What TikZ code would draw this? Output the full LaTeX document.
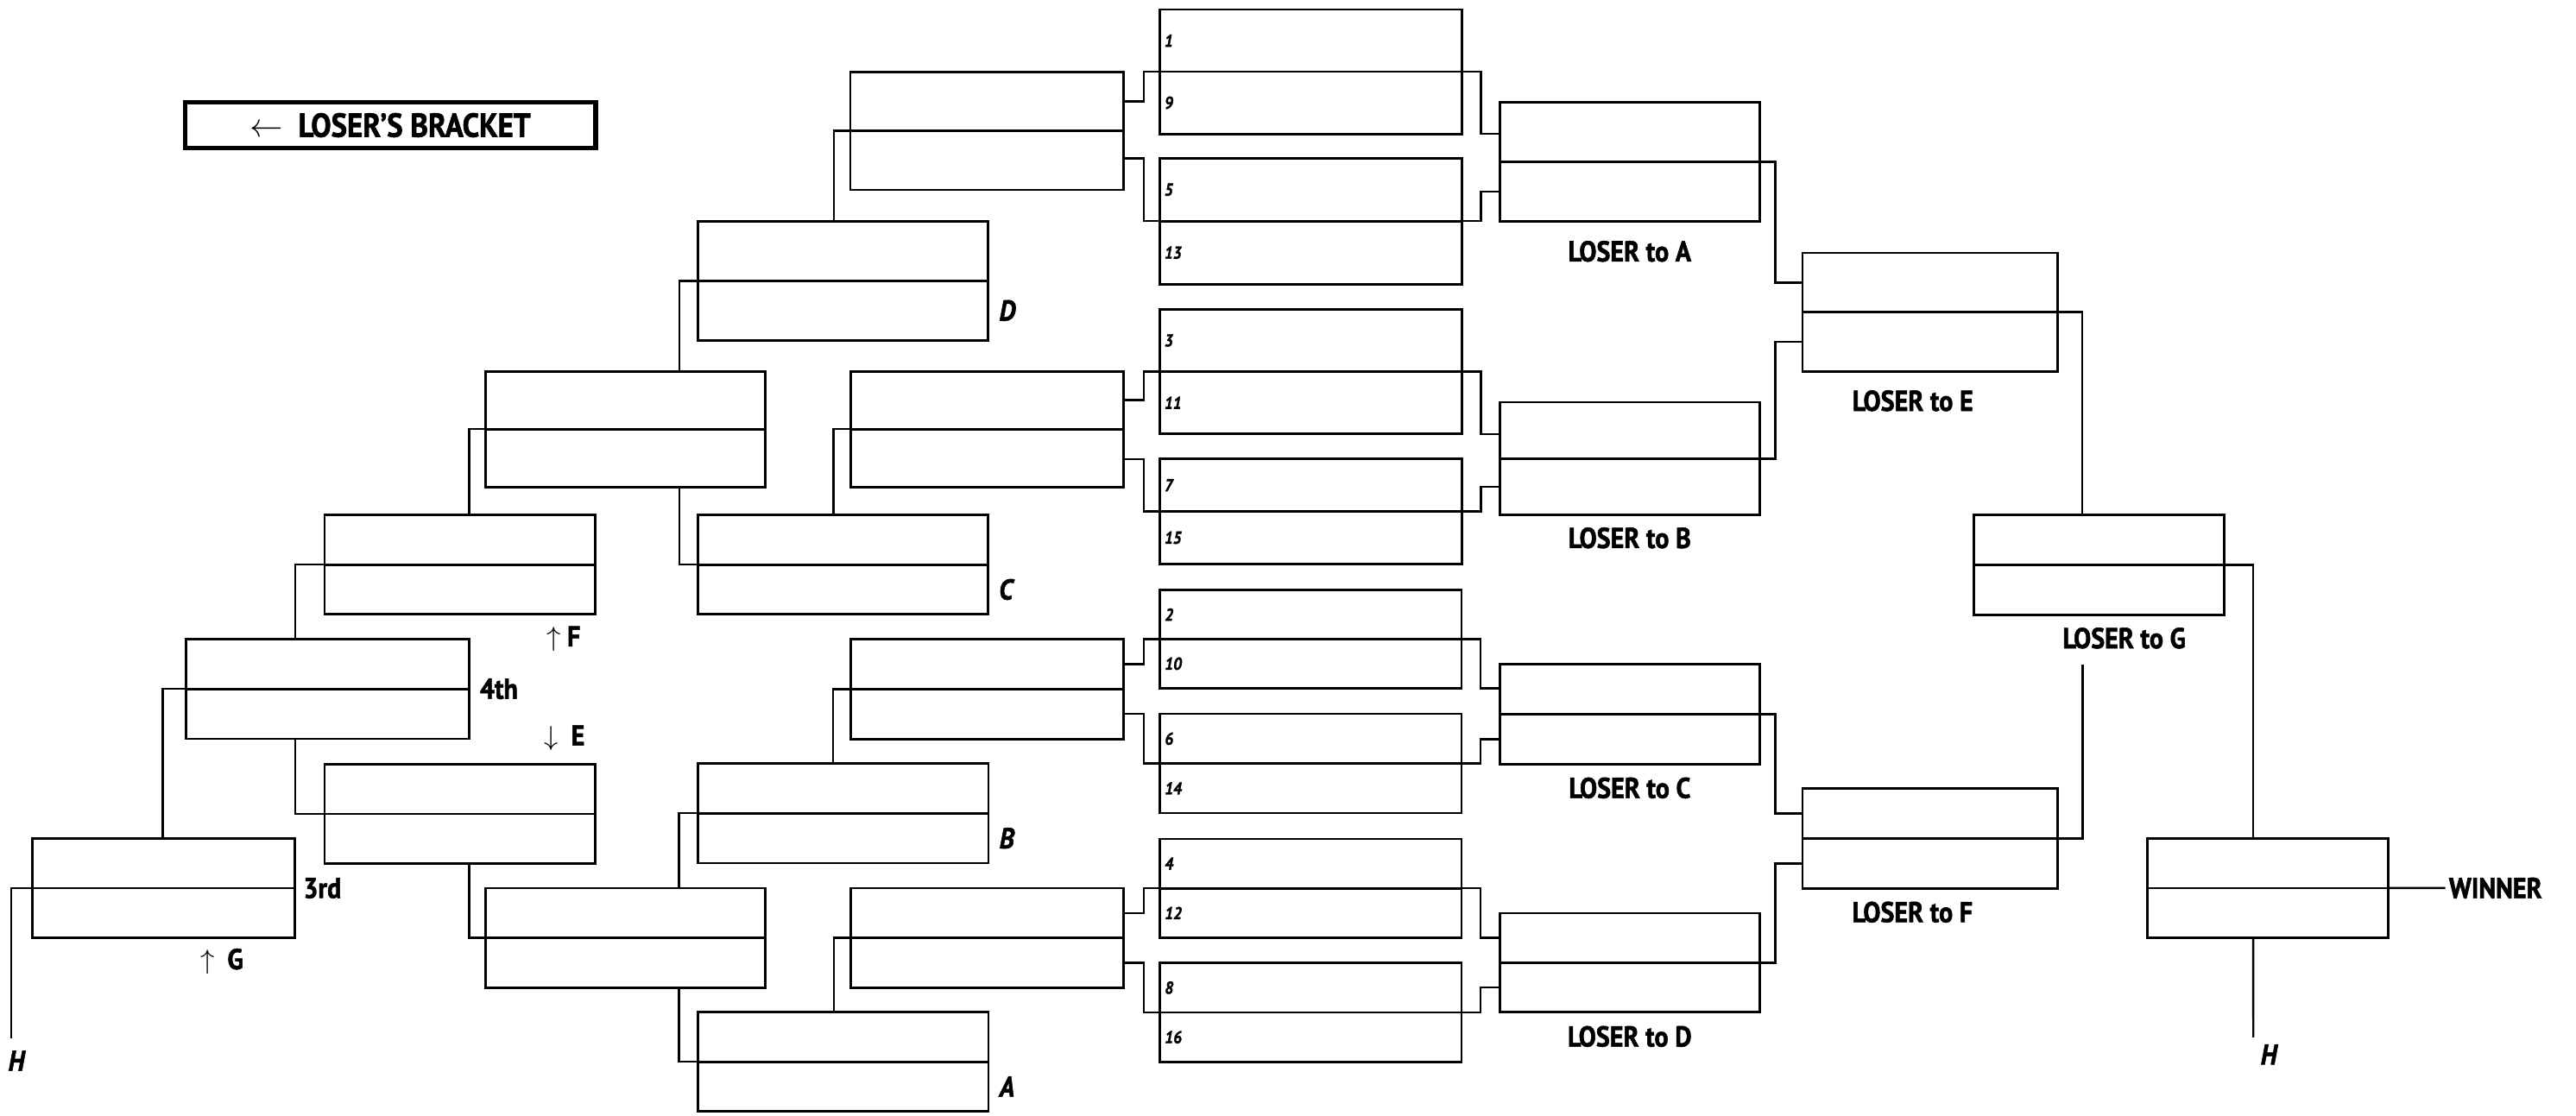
\documentclass[tikz,border=0pt]{standalone}
\usepackage{fontspec}
\setmainfont{PT Sans}[FakeStretch=0.9, BoldFeatures={FakeBold=1.6}, BoldItalicFeatures={FakeBold=1.6}]
\usetikzlibrary{calc,fit}

\tikzset{
  gamebox/.style={draw, line width=0.8pt, inner sep=0pt, outer sep=0pt},
  split/.style={line width=0.8pt},
  link/.style={line width=0.7pt},
  tag/.style={font=\fontsize{9.5}{11}\selectfont\bfseries, inner sep=1pt},
  letter/.style={font=\fontsize{9.5}{11}\selectfont\bfseries\itshape, inner sep=1pt},
  side/.style={anchor=west, inner sep=0pt, xshift=1.2mm},
  seed/.style={font=\fontsize{5.7}{6}\selectfont\bfseries\itshape, anchor=west, inner sep=0pt, xshift=0.5mm},
  header/.style={draw, line width=1.5pt, inner sep=0pt}
}

% one game: a box split by a line, plus the centres of both halves
\newcommand{\game}[5]{%
  \node[gamebox, fit={(#2,#3) (#4,#5)}] (#1) {};
  \draw[split] (#1.west) -- (#1.east);
  \coordinate (#1-t) at ($(#1.north)!0.5!(#1.center)$);
  \coordinate (#1-b) at ($(#1.south)!0.5!(#1.center)$);
}

\begin{document}
\begin{tikzpicture}[x=0.19031mm, y=-0.19031mm]
\useasboundingbox (0,0) rectangle (1568,679);

% Header
\node[header, fit={(112.6,62.2) (362.5,90.2)}] (hdr) {};
\node[tag, font=\fontsize{11}{12}\selectfont\bfseries] (hdrtxt) at (hdr.center) {$\leftarrow$\ \ LOSER'S BRACKET};

% Winners: first round
\game{s1}{705.8}{5.8}{889.8}{81.5}
\game{s2}{705.8}{96.3}{889.8}{173}
\game{s3}{705.8}{188.3}{889.8}{264.2}
\game{s4}{705.8}{279.4}{889.8}{343.3}
\game{s5}{706}{359.2}{889.6}{419}
\game{s6}{706}{434.6}{889.6}{495}
\game{s7}{706}{510.7}{889.6}{570.9}
\game{s8}{706}{586.2}{889.6}{646.5}

\foreach \s/\a/\b in {s1/1/9, s2/5/13, s3/3/11, s4/7/15, s5/2/10, s6/6/14, s7/4/12, s8/8/16}{
  \node[seed] (n\a) at (\s.west |- \s-t) {\a};
  \node[seed] (n\b) at (\s.west |- \s-b) {\b};
}

% Winners: later rounds
\game{wa}{913}{62.2}{1071}{134.9}
\game{wb}{913}{244.9}{1071}{313.5}
\game{wc}{913}{404.4}{1071}{465.3}
\game{wd}{913}{555.9}{1071}{616.3}
\game{w3a}{1097.2}{154}{1252.5}{226}
\game{w3b}{1097.2}{480}{1252.5}{540.9}
\game{w4}{1201.6}{313.5}{1353.9}{374.2}
\game{final}{1307.2}{510.4}{1453.7}{570.9}

% Losers
\game{la}{517.6}{43.8}{684}{115.6}
\game{lb}{518}{226}{684}{296.5}
\game{lc}{518}{389.2}{684}{450}
\game{ld}{517.8}{540.7}{683.7}{601.2}
\game{bxD}{425}{134.9}{601.6}{207.1}
\game{bxC}{425}{313.5}{601.4}{374}
\game{bxB}{425}{464.7}{601.7}{525.5}
\game{bxA}{425}{616.2}{601.7}{676.6}
\game{lup}{295.4}{226}{465.9}{296.5}
\game{llow}{295.5}{540.7}{466}{601.2}
\game{bxF}{197.6}{313.5}{362.5}{374}
\game{bxE}{197.6}{465.3}{362.5}{525.7}
\game{bx4}{113.1}{389}{285.5}{449.8}
\game{bx3}{19.6}{510.6}{179.6}{570.8}

% first round out to both sides
\foreach \u/\l/\lo/\wi in {s1/s2/la/wa, s3/s4/lb/wb, s5/s6/lc/wc, s7/s8/ld/wd}{
  \draw[link] (\u.west) -- ++(-9.7,0) |- (\lo.east |- \lo-t);
  \draw[link] (\l.west) -- ++(-9.7,0) |- (\lo.east |- \l.north);
  \draw[link] (\u.east) -- ++(11.7,0) |- (\wi.west |- \u.south);
  \draw[link] (\l.east) -- ++(11.7,0) |- (\wi.west |- \wi-b);
}

% winners bracket links
\draw[link] (wa.east) -- ++(9.6,0) |- (w3a.west |- w3a-t);
\draw[link] (wb.east) -- ++(9.6,0) |- (w3a.west |- w3a-b);
\draw[link] (wc.east) -- ++(9.6,0) |- (w3b.west |- w3b-t);
\draw[link] (wd.east) -- ++(9.6,0) |- (w3b.west |- w3b-b);
\draw[link] (w3a.east) -- ++(15,0) coordinate (k1) -- (k1 |- w4.north);
\coordinate (gend) at (1267.7,404.7);
\draw[link] (w3b.east) -- ++(15.2,0) coordinate (k2) -- (k2 |- gend);
\draw[link] (w4.east) -- ++(17.6,0) coordinate (k3) -- (k3 |- final.north);
\coordinate (hendR) at (1371.6,631.6);
\draw[link] (k3 |- final.south) -- (hendR);

% losers bracket links
\draw[link] (la.west) -- ++(-10,0) coordinate (j1) -- (j1 |- bxD.north);
\draw[link] (lb.west) -- ++(-10.7,0) coordinate (j2) -- (j2 |- bxC.north);
\draw[link] (lc.west) -- ++(-11,0) coordinate (j3) -- (j3 |- bxB.north);
\draw[link] (ld.west) -- ++(-10.1,0) coordinate (j4) -- (j4 |- bxA.north);
\draw[link] (bxD.west) -- ++(-11.6,0) coordinate (j5) -- (j5 |- lup.north);
\draw[link] (bxC.west) -- ++(-11.6,0) coordinate (j6) -- (j6 |- lup.south);
\draw[link] (bxB.west) -- ++(-11.8,0) coordinate (j7) -- (j7 |- llow.north);
\draw[link] (bxA.west) -- ++(-11.8,0) coordinate (j8) -- (j8 |- llow.south);
\draw[link] (lup.west) -- ++(-9.8,0) coordinate (j9) -- (j9 |- bxF.north);
\draw[link] (llow.west) -- ++(-10,0) coordinate (j10) -- (j10 |- bxE.south);
\draw[link] (bxF.west) -- ++(-18,0) coordinate (j11) -- (j11 |- bx4.north);
\draw[link] (bxE.west) -- ++(-18,0) coordinate (j12) -- (j12 |- bx4.south);
\draw[link] (bx4.west) -- ++(-14,0) coordinate (j13) -- (j13 |- bx3.north);
\coordinate (hendL) at (6.7,631.9);
\draw[link] (bx3.west) -| (hendL);

% Labels
\node[tag] (lA) at (992,153) {LOSER to A};
\node[tag] (lB) at (992,327.5) {LOSER to B};
\node[tag] (lC) at (992,479.7) {LOSER to C};
\node[tag] (lD) at (992,631) {LOSER to D};
\node[tag] (lE) at (1164.3,244) {LOSER to E};
\node[tag] (lF) at (1164.1,555.3) {LOSER to F};
\node[tag] (lG) at (1293,388.5) {LOSER to G};
\node[tag, anchor=west] (win) at (1488.5,540.6) {WINNER};
\draw[link] (final.east) -- (win.west);
\node[letter] (hR) at (1381,642) {H};
\node[letter] (hL) at (10,645.8) {H};

\node[letter, side] (tD) at (bxD.east |- bxD-b) {D};
\node[letter, side] (tC) at (bxC.east |- bxC-b) {C};
\node[letter, side] (tB) at (bxB.east |- bxB-b) {B};
\node[letter, side] (tA) at (bxA.east |- bxA-b) {A};
\node[tag, side] (t4) at (bx4.east) {4th};
\node[tag, side, xshift=-0.3mm] (t3) at (bx3.east) {3rd};
\node[tag] (upF) at (343,389) {$\uparrow$\ F};
\node[tag] (dnE) at (343.5,449.3) {$\downarrow$\ \ E};
\node[tag] (upG) at (135,585.4) {$\uparrow$\ \ G};
\end{tikzpicture}
\end{document}
